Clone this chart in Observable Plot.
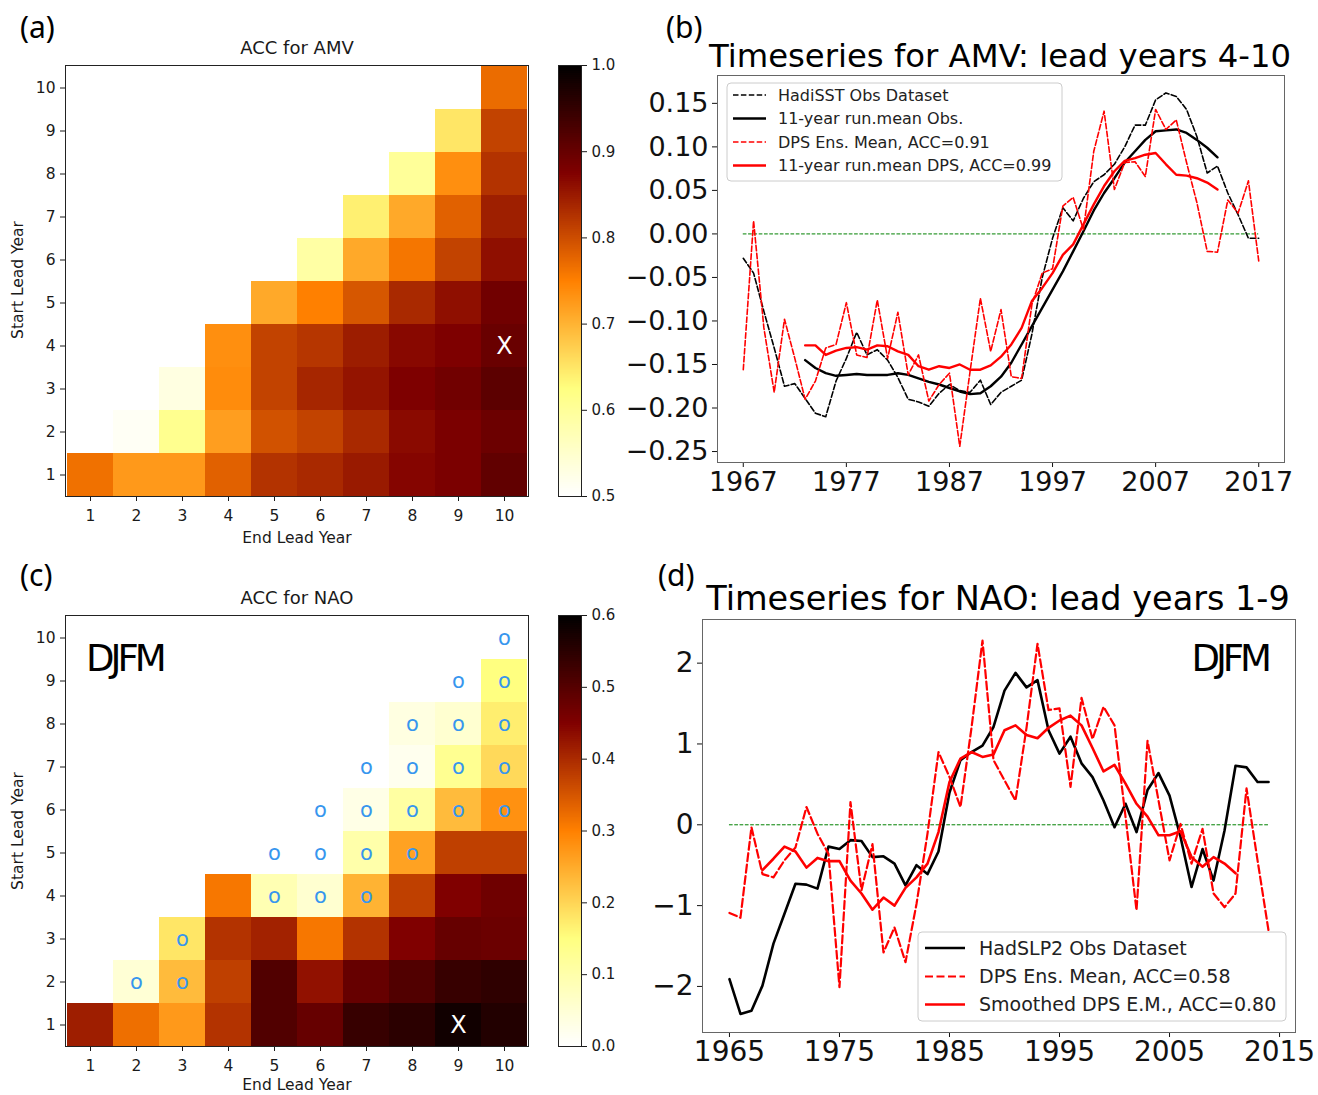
<!DOCTYPE html>
<html><head><meta charset="utf-8">
<script src="https://cdn.jsdelivr.net/npm/d3@7"></script>
<script src="https://cdn.jsdelivr.net/npm/@observablehq/plot@0.6"></script>
<style>
body{margin:0;background:#fff;}
#root{position:relative;width:1318px;height:1095px;overflow:hidden;font-family:"DejaVu Sans",sans-serif;background:#fff;}
</style></head><body><div id="root"></div>
<script>
const FONT = '"DejaVu Sans", sans-serif';

// ---------- heatmap data (rows = start lead year, values for end lead year = start..10) ----------
const leadYears = [1,2,3,4,5,6,7,8,9,10];
const amvRow1  = [0.765,0.725,0.725,0.78,0.825,0.835,0.85,0.87,0.88,0.905];
const amvRow2  = [0.51,0.61,0.72,0.795,0.81,0.835,0.865,0.88,0.895];
const amvRow3  = [0.53,0.738,0.81,0.838,0.855,0.877,0.89,0.91];
const amvRow4  = [0.735,0.81,0.822,0.847,0.867,0.877,0.897];
const amvRow5  = [0.71,0.75,0.79,0.835,0.86,0.89];
const amvRow6  = [0.59,0.71,0.76,0.81,0.86];
const amvRow7  = [0.64,0.71,0.78,0.845];
const amvRow8  = [0.60,0.735,0.825];
const amvRow9  = [0.65,0.81];
const amvRow10 = [0.77];
const amvBest = {start:4, end:10};

const naoRow1  = [0.415,0.32,0.27,0.39,0.505,0.48,0.535,0.55,0.58,0.56];
const naoRow2  = [0.05,0.23,0.375,0.505,0.43,0.48,0.505,0.535,0.545];
const naoRow3  = [0.18,0.39,0.41,0.31,0.39,0.45,0.48,0.475];
const naoRow4  = [0.31,0.09,0.055,0.24,0.375,0.45,0.47];
const naoRow5  = [-0.05,-0.03,0.10,0.26,0.375,0.375];
const naoRow6  = [-0.04,0.03,0.11,0.23,0.28];
const naoRow7  = [-0.02,0.02,0.13,0.195];
const naoRow8  = [0.036,0.055,0.17];
const naoRow9  = [-0.03,0.15];
const naoRow10 = [-0.06];
const naoBest = {start:1, end:9};
// cells marked "o" (start, end)
const naoSigStart = [10,9,9,8,8,8,7,7,7,7,6,6,6,6,6,5,5,5,5,4,4,4,3,2,2];
const naoSigEnd   = [10,9,10,8,9,10,7,8,9,10,6,7,8,9,10,5,6,7,8,5,6,7,3,2,3];

const amvColorTicks = [0.5,0.6,0.7,0.8,0.9,1.0];
const naoColorTicks = [0.0,0.1,0.2,0.3,0.4,0.5,0.6];

// ---------- AMV timeseries (lead years 4-10) ----------
const amvYears = d3.range(1967, 2018);
const hadisst = [-0.028,-0.045,-0.089,-0.131,-0.175,-0.172,-0.189,-0.206,-0.210,-0.169,
  -0.143,-0.113,-0.139,-0.133,-0.145,-0.165,-0.190,-0.193,-0.198,-0.183,
  -0.173,-0.180,-0.182,-0.168,-0.196,-0.182,-0.175,-0.168,-0.115,-0.050,
  -0.005,0.030,0.015,0.041,0.060,0.068,0.080,0.100,0.125,0.125,
  0.154,0.162,0.158,0.143,0.112,0.070,0.078,0.047,0.022,-0.005,-0.005];
const dpsAMV = [-0.156,0.015,-0.108,-0.182,-0.098,-0.143,-0.190,-0.169,-0.131,-0.127,
  -0.079,-0.139,-0.142,-0.076,-0.143,-0.090,-0.162,-0.139,-0.192,-0.173,
  -0.160,-0.244,-0.158,-0.074,-0.135,-0.087,-0.164,-0.166,-0.081,-0.045,
  -0.040,0.032,0.042,0.005,0.095,0.141,0.051,0.082,0.083,0.066,
  0.143,0.120,0.131,0.082,0.036,-0.020,-0.021,0.039,0.024,0.061,-0.031];
const runYears = d3.range(1973, 2014);
const run11Obs = [-0.145,-0.154,-0.160,-0.163,-0.162,-0.161,-0.162,-0.162,-0.162,-0.160,
  -0.162,-0.166,-0.170,-0.173,-0.177,-0.181,-0.184,-0.183,-0.175,-0.164,
  -0.148,-0.127,-0.106,-0.085,-0.064,-0.043,-0.020,0.003,0.027,0.047,
  0.064,0.082,0.095,0.108,0.118,0.119,0.120,0.116,0.108,0.099,0.088];
const run11DPS = [-0.128,-0.128,-0.139,-0.134,-0.131,-0.130,-0.133,-0.128,-0.129,-0.135,
  -0.139,-0.152,-0.156,-0.152,-0.154,-0.150,-0.156,-0.156,-0.151,-0.141,
  -0.127,-0.108,-0.077,-0.062,-0.045,-0.024,-0.012,0.011,0.034,0.055,
  0.072,0.084,0.087,0.091,0.093,0.080,0.068,0.067,0.064,0.059,0.051];
const amvXTicks = [1967,1977,1987,1997,2007,2017];
const amvYTicks = [-0.25,-0.20,-0.15,-0.10,-0.05,0,0.05,0.10,0.15];
const amvLegendLabels = ["HadiSST Obs Dataset","11-year run.mean Obs.","DPS Ens. Mean, ACC=0.91","11-year run.mean DPS, ACC=0.99"];

// ---------- NAO timeseries (lead years 1-9) ----------
const naoYears = d3.range(1965, 2015);
const hadslp2 = [-1.91,-2.34,-2.30,-1.99,-1.47,-1.10,-0.73,-0.74,-0.79,-0.27,
  -0.30,-0.19,-0.20,-0.40,-0.39,-0.48,-0.75,-0.50,-0.61,-0.33,
  0.40,0.80,0.90,0.98,1.21,1.66,1.88,1.70,1.79,1.17,
  0.88,1.09,0.76,0.59,0.30,-0.03,0.26,-0.09,0.43,0.64,
  0.36,-0.15,-0.77,-0.30,-0.69,-0.07,0.73,0.71,0.53,0.53];
const dpsNAO = [-1.09,-1.15,-0.03,-0.61,-0.65,-0.44,-0.28,0.22,-0.11,-0.36,
  -2.01,0.28,-0.81,-0.24,-1.58,-1.27,-1.70,-0.98,-0.11,0.90,
  0.59,0.22,1.20,2.28,0.80,0.55,0.30,1.20,2.24,1.42,
  1.44,0.47,1.57,1.06,1.46,1.23,0.10,-1.06,1.04,0.30,
  -0.44,0.01,-0.48,-0.05,-0.85,-1.02,-0.85,0.45,-0.44,-1.31];
const smoothYears = d3.range(1968, 2012);
const smoothNAO = [-0.56,-0.42,-0.27,-0.33,-0.53,-0.41,-0.45,-0.45,-0.69,-0.85,
  -1.05,-0.90,-1.00,-0.78,-0.65,-0.48,-0.09,0.53,0.82,0.90,
  0.84,0.87,1.17,1.23,1.11,1.07,1.20,1.29,1.35,1.23,
  0.95,0.66,0.74,0.51,0.26,0.10,-0.13,-0.13,-0.08,-0.40,
  -0.52,-0.40,-0.48,-0.60];
const naoXTicks = [1965,1975,1985,1995,2005,2015];
const naoYTicks = [-2,-1,0,1,2];
const naoLegendLabels = ["HadSLP2 Obs Dataset","DPS Ens. Mean, ACC=0.58","Smoothed DPS E.M., ACC=0.80"];

// ---------- helpers ----------
const afmhotR = ["#ffffff","#ffff80","#ff8000","#800000","#000000"];
function colorScale(lo, hi){
  const s = (hi-lo)/4;
  return {type:"linear", domain:[lo,lo+s,lo+2*s,lo+3*s,hi], range:afmhotR, interpolate:"rgb", clamp:true};
}
function cellsFrom(rows){
  const out = [];
  rows.forEach((row,i)=>row.forEach((v,j)=>out.push({start:i+1, end:i+1+j, v})));
  return out;
}
const root = document.getElementById("root");
function place(el, left, top){
  el.style.position = "absolute"; el.style.left = left+"px"; el.style.top = top+"px";
  root.appendChild(el);
}

function heatmap(cells, lo, hi, sig, best){
  return Plot.plot({
    width:540, height:545, marginTop:65, marginBottom:49, marginLeft:65, marginRight:12,
    style:{fontFamily:FONT, fontSize:"15.5px", color:"#1a1a1a", background:"transparent"},
    x:{type:"band", domain:leadYears, padding:0, label:null, tickSize:5, tickPadding:8},
    y:{type:"band", domain:leadYears.slice().reverse(), padding:0, label:null, tickSize:5, tickPadding:5},
    color:colorScale(lo,hi),
    marks:[
      Plot.cell(cells,{x:"end", y:"start", fill:"v", inset:0, shapeRendering:"crispEdges"}),
      sig ? Plot.text(sig,{x:"end", y:"start", text:()=>"o", fill:"#3796ee", fontSize:21}) : null,
      Plot.text([best],{x:"end", y:"start", text:()=>"X", fill:"white", fontSize:24}),
      Plot.frame({stroke:"#222"})
    ]
  });
}
function colorbar(lo, hi, ticks){
  const n = 216, d = (hi-lo)/n;
  const stops = d3.range(n).map(i=>lo+i*d);
  return Plot.plot({
    width:110, height:545, marginTop:65, marginBottom:49, marginLeft:18, marginRight:69,
    style:{fontFamily:FONT, fontSize:"15px", color:"#1a1a1a", background:"transparent"},
    x:{domain:[0,1], axis:null},
    y:{domain:[lo,hi], ticks, tickFormat:d3.format(".1f"), axis:"right", label:null, tickSize:5, tickPadding:5},
    color:colorScale(lo,hi),
    marks:[
      Plot.rect(stops,{x1:()=>0, x2:()=>1, y1:v=>v, y2:v=>Math.min(hi, v+d*1.6), fill:v=>v+d/2}),
      Plot.frame({stroke:"#222"})
    ]
  });
}

// ---------- panel (a) ----------
const amvCells = cellsFrom([amvRow1,amvRow2,amvRow3,amvRow4,amvRow5,amvRow6,amvRow7,amvRow8,amvRow9,amvRow10]);
place(heatmap(amvCells, 0.5, 1.0, null, amvBest), 0, 0);
place(colorbar(0.5, 1.0, amvColorTicks), 540, 0);

// ---------- panel (c) ----------
const naoCells = cellsFrom([naoRow1,naoRow2,naoRow3,naoRow4,naoRow5,naoRow6,naoRow7,naoRow8,naoRow9,naoRow10]);
const naoSig = naoSigStart.map((s,i)=>({start:s, end:naoSigEnd[i]}));
place(heatmap(naoCells, 0.0, 0.6, naoSig, naoBest), 0, 550);
place(colorbar(0.0, 0.6, naoColorTicks), 540, 550);

// ---------- panel (b) ----------
const ser = (xs, ys) => xs.map((x,i)=>({x, y:ys[i]}));
const plotB = Plot.plot({
  width:716, height:500, marginLeft:117, marginRight:32, marginTop:75, marginBottom:38,
  style:{fontFamily:FONT, fontSize:"27px", color:"#111", background:"transparent"},
  x:{domain:[1964.5,2019.5], ticks:amvXTicks, tickFormat:d=>String(d), label:null, tickSize:5, tickPadding:4},
  y:{domain:[-0.2626,0.182], ticks:amvYTicks, tickFormat:d3.format(".2f"), label:null, tickSize:5, tickPadding:4},
  marks:[
    Plot.ruleY([0],{x1:amvYears[0], x2:amvYears[amvYears.length-1], stroke:"#008000", strokeWidth:1, strokeDasharray:"3.7,1.6"}),
    Plot.line(ser(amvYears,hadisst),{x:"x", y:"y", stroke:"#000", strokeWidth:1.6, strokeDasharray:"5.5,2.4"}),
    Plot.line(ser(runYears,run11Obs),{x:"x", y:"y", stroke:"#000", strokeWidth:2.4}),
    Plot.line(ser(amvYears,dpsAMV),{x:"x", y:"y", stroke:"#ff0000", strokeWidth:1.6, strokeDasharray:"5.5,2.4"}),
    Plot.line(ser(runYears,run11DPS),{x:"x", y:"y", stroke:"#ff0000", strokeWidth:2.4}),
    Plot.frame({stroke:"#666"})
  ]
});
place(plotB, 600, 0);

// ---------- panel (d) ----------
const plotD = Plot.plot({
  width:718, height:520, marginLeft:102, marginRight:23, marginTop:59, marginBottom:48,
  style:{fontFamily:FONT, fontSize:"28px", color:"#111", background:"transparent"},
  x:{domain:[1962.55,2016.45], ticks:naoXTicks, tickFormat:d=>String(d), label:null, tickSize:5, tickPadding:4},
  y:{domain:[-2.57,2.54], ticks:naoYTicks, tickFormat:d3.format("d"), label:null, tickSize:5, tickPadding:4},
  marks:[
    Plot.ruleY([0],{x1:naoYears[0], x2:naoYears[naoYears.length-1], stroke:"#008000", strokeWidth:1, strokeDasharray:"3.7,1.6"}),
    Plot.line(ser(naoYears,hadslp2),{x:"x", y:"y", stroke:"#000", strokeWidth:2.6}),
    Plot.line(ser(naoYears,dpsNAO),{x:"x", y:"y", stroke:"#ff0000", strokeWidth:2.2, strokeDasharray:"8,3.5"}),
    Plot.line(ser(smoothYears,smoothNAO),{x:"x", y:"y", stroke:"#ff0000", strokeWidth:2.6}),
    Plot.frame({stroke:"#666"})
  ]
});
place(plotD, 600, 560);

// ---------- overlay text, labels and legends ----------
const ov = d3.select(root).append("svg")
  .attr("width",1318).attr("height",1095)
  .style("position","absolute").style("left","0px").style("top","0px")
  .attr("font-family", FONT);
function txt(x, y, s, size, anchor="start", extra={}){
  const t = ov.append("text").attr("x",x).attr("y",y).attr("font-size",size)
    .attr("text-anchor",anchor).attr("fill", extra.fill || "#111").text(s);
  if (extra.family) t.attr("font-family", extra.family);
  if (extra.spacing !== undefined) t.attr("letter-spacing", extra.spacing);
  if (extra.rotate) t.attr("transform", `rotate(-90 ${x} ${y})`);
  return t;
}
const PANEL_FONT = '"Noto Sans", sans-serif';
txt(20, 38, "(a)", 30, "start", {family:PANEL_FONT, fill:"#000"});
txt(666, 38, "(b)", 30, "start", {family:PANEL_FONT, fill:"#000"});
txt(20, 586, "(c)", 30, "start", {family:PANEL_FONT, fill:"#000"});
txt(658, 586, "(d)", 30, "start", {family:PANEL_FONT, fill:"#000"});

txt(297, 54, "ACC for AMV", 18, "middle", {fill:"#1a1a1a"});
txt(297, 543, "End Lead Year", 15.5, "middle", {fill:"#1a1a1a"});
txt(23, 280, "Start Lead Year", 15.5, "middle", {fill:"#1a1a1a", rotate:true});
txt(297, 604, "ACC for NAO", 18, "middle", {fill:"#1a1a1a"});
txt(297, 1090, "End Lead Year", 15.5, "middle", {fill:"#1a1a1a"});
txt(23, 831, "Start Lead Year", 15.5, "middle", {fill:"#1a1a1a", rotate:true});
txt(86, 671, "DJFM", 37, "start", {fill:"#000", spacing:-4});
txt(1268, 671, "DJFM", 37, "end", {fill:"#000", spacing:-4});

txt(1000, 67, "Timeseries for AMV: lead years 4-10", 32.3, "middle", {fill:"#000"});
txt(998, 610, "Timeseries for NAO: lead years 1-9", 33.5, "middle", {fill:"#000"});

function legend(box, rows, sx1, sx2, tx, size, styles, labels){
  ov.append("rect").attr("x",box[0]).attr("y",box[1]).attr("width",box[2]).attr("height",box[3])
    .attr("rx",4).attr("fill","white").attr("fill-opacity",0.8).attr("stroke","#cccccc");
  labels.forEach((lab,i)=>{
    const st = styles[i];
    ov.append("line").attr("x1",sx1).attr("x2",sx2).attr("y1",rows[i]).attr("y2",rows[i])
      .attr("stroke",st.color).attr("stroke-width",st.width).attr("stroke-dasharray",st.dash || null);
    ov.append("text").attr("x",tx).attr("y",rows[i]).attr("dy","0.36em").attr("font-size",size)
      .attr("fill","#222").text(lab);
  });
}
legend([727,83,335,98],[95,118.5,142,165.5],733,766,778,16,
  [{color:"#000",width:1.6,dash:"5.5,2.4"},{color:"#000",width:2.4},{color:"#ff0000",width:1.6,dash:"5.5,2.4"},{color:"#ff0000",width:2.4}],
  amvLegendLabels);
legend([918,932,368,89],[948,976.5,1004.5],925,965,979,19,
  [{color:"#000",width:2.6},{color:"#ff0000",width:2.2,dash:"8,3.5"},{color:"#ff0000",width:2.6}],
  naoLegendLabels);
</script></body></html>
